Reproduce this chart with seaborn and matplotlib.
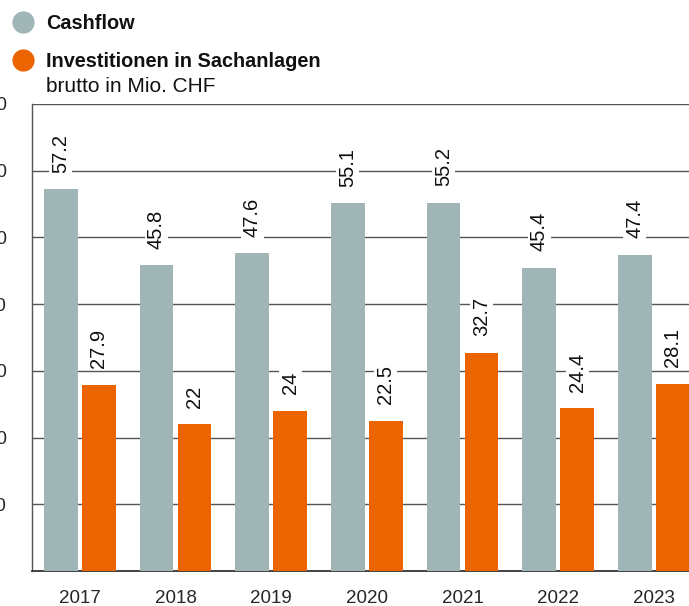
import pandas as pd
import matplotlib.pyplot as plt
import seaborn as sns
from matplotlib.lines import Line2D

years = ['2017', '2018', '2019', '2020', '2021', '2022', '2023']
cashflow = [57.2, 45.8, 47.6, 55.1, 55.2, 45.4, 47.4]
investitionen = [27.9, 22, 24, 22.5, 32.7, 24.4, 28.1]
invest_labels = ['27.9', '22', '24', '22.5', '32.7', '24.4', '28.1']
cash_labels = ['57.2', '45.8', '47.6', '55.1', '55.2', '45.4', '47.4']
series_names = ['Cashflow', 'Investitionen in Sachanlagen']
yticks = [10, 20, 30, 40, 50, 60, 70]

GRAY = '#9fb5b6'
ORANGE = '#ec6400'


def build_frame():
    df = pd.DataFrame({
        'Jahr': years * 2,
        'Wert': cashflow + investitionen,
        'Serie': [series_names[0]] * len(years) + [series_names[1]] * len(years),
    })
    return df


def main():
    sns.set_style('white')
    plt.rcParams['font.family'] = ['Liberation Sans', 'DejaVu Sans']

    df = build_frame()
    fig = plt.figure(figsize=(6.89, 6.06), dpi=100)
    ax = fig.add_axes([0.0464, 0.0578, 0.972, 0.7706])

    sns.barplot(
        data=df, x='Jahr', y='Wert', hue='Serie',
        palette=[GRAY, ORANGE], width=0.8, gap=0.12,
        saturation=1, legend=False, ax=ax, zorder=3,
        linewidth=0, edgecolor='none',
    )

    ax.set_ylim(0, 70)
    ax.set_xlim(-0.5, 6.5)
    ax.set_yticks(yticks)
    ax.set_yticklabels([str(t) for t in yticks])
    ax.yaxis.grid(True, color='#555555', linewidth=1, zorder=0)
    ax.set_axisbelow(True)
    ax.set_xlabel('')
    ax.set_ylabel('')
    ax.tick_params(axis='y', length=0, pad=18, labelsize=13.5)
    ax.tick_params(axis='x', length=0, pad=14, labelsize=13.5)
    for side in ['top', 'right']:
        ax.spines[side].set_visible(False)
    ax.spines['left'].set_color('#555555')
    ax.spines['left'].set_linewidth(1)
    ax.spines['bottom'].set_color('#333333')
    ax.spines['bottom'].set_linewidth(1.3)

    for container, labels in zip(ax.containers, [cash_labels, invest_labels]):
        ax.bar_label(
            container, labels=labels, rotation=90, padding=12,
            fontsize=14.5, color='#111111',
            bbox=dict(facecolor='white', edgecolor='none', pad=1.5),
        )

    # legend block at top left
    fig.add_artist(Line2D([0.034], [0.9637], marker='o', markersize=15,
                          color=GRAY, linestyle='none', transform=fig.transFigure))
    fig.add_artist(Line2D([0.034], [0.901], marker='o', markersize=15,
                          color=ORANGE, linestyle='none', transform=fig.transFigure))
    fig.text(0.0668, 0.9620, 'Cashflow', fontsize=14.3, fontweight='bold',
             va='center', ha='left', color='#111111')
    fig.text(0.0668, 0.899, 'Investitionen in Sachanlagen', fontsize=14.3,
             fontweight='bold', va='center', ha='left', color='#111111')
    fig.text(0.0668, 0.858, 'brutto in Mio. CHF', fontsize=15,
             va='center', ha='left', color='#111111')

    fig.savefig('out.png', dpi=100)


if __name__ == '__main__':
    main()
